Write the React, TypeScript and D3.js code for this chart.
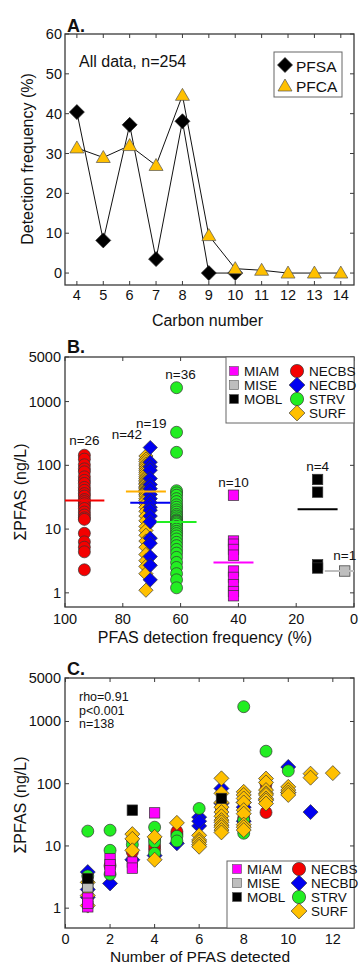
import React from "react";
import * as d3 from "d3";

// ---------- Panel A data ----------
const carbonPFCA = [4, 5, 6, 7, 8, 9, 10, 11, 12, 13, 14];
const pfcaFreq = [31.4, 29.0, 32.0, 27.0, 44.6, 9.4, 1.1, 0.7, 0, 0, 0];
const carbonPFSA = [4, 5, 6, 7, 8, 9, 10];
const pfsaFreq = [40.4, 8.2, 37.2, 3.5, 38.1, 0, 0];
const xTicksA = [4, 5, 6, 7, 8, 9, 10, 11, 12, 13, 14];
const yTicksA = [0, 10, 20, 30, 40, 50, 60];

// ---------- Panel B data ----------
const groupsB = ["NECBS", "SURF", "NECBD", "STRV", "MIAM", "MOBL", "MISE"];
const freqB = [93.3, 72, 70.5, 61.4, 41.7, 12.6, 3.2];
const countB = [26, 42, 19, 36, 10, 4, 1];
const medianB = [28, 39, 26, 12.9, 3.0, 20.5, 2.2];
const necbsB = [144, 125, 102, 88, 79, 66, 58, 52, 45, 40.5, 36, 33, 29, 27, 25, 23, 21, 18.5, 16.6, 15, 14.2, 8.6, 6.3, 5.2, 4.4, 2.3];
const surfB = [140, 125, 115, 105, 98, 90, 84, 78, 72, 66, 62, 58, 55, 52, 50, 47, 45, 43, 41, 40, 39.5, 38.5, 37, 35, 33, 30, 28, 25, 22, 19, 16, 13.5, 11, 9.5, 8, 6.5, 5.2, 4, 3.2, 2.6, 2.0, 1.1];
const necbdB = [190, 112, 95, 84, 62, 50, 43, 35, 30, 26, 22, 19.8, 16, 13, 7.2, 6, 3.7, 2.7, 1.6];
const strvB = [1650, 330, 160, 40, 37, 34, 30, 27, 24, 22, 20, 18.5, 17, 16, 15, 14, 13.5, 13.2, 12.6, 12, 11, 10, 9.2, 8.5, 7.8, 7, 6.2, 5.5, 4.8, 4.2, 3.6, 3, 2.5, 2, 1.6, 1.2];
const miamB = [34, 6.5, 5.8, 4.8, 3.9, 2.2, 1.75, 1.35, 1.05, 0.9];
const moblB = [60, 38, 2.75, 2.45];
const miseB = [2.2];
const xTicksB = [100, 80, 60, 40, 20, 0];
const logTicks = [1, 10, 100, 1000, 5000];

// ---------- Panel C data ([number detected, sum PFAS]) ----------
const necbdC = [[1, 3.8], [1, 2], [1, 1.5], [2, 2.5], [3, 6], [4, 7], [5, 11], [6, 29], [6, 21], [6, 25], [7, 84], [7, 48], [8, 42], [8, 25], [8, 50], [9, 55], [10, 186], [10, 72], [11, 35]];
const necbsC = [[2, 4.8], [3, 8], [4, 8.8], [4, 10], [5, 15.5], [5, 17], [7, 40], [8, 28], [9, 100], [9, 80], [9, 34.5]];
const strvC = [[1, 17.3], [1, 3.3], [2, 17.9], [2, 8.5], [2, 3.5], [3, 12.7], [3, 10.5], [4, 20], [4, 13], [4, 11.6], [4, 7.6], [5, 14.3], [5, 12], [6, 40], [7, 30], [8, 1730], [8, 26], [8, 16], [9, 333], [10, 161]];
const surfC = [[1, 2.6], [1, 1.6], [1, 1.1], [3, 15.5], [3, 13], [3, 8.5], [4, 14], [4, 6.0], [5, 23.5], [6, 14.8], [6, 12.5], [6, 11.6], [6, 10.5], [6, 9.7], [7, 122], [7, 70], [7, 50], [7, 42], [7, 35], [7, 30], [7, 26], [7, 24], [7, 21.6], [7, 20], [7, 18], [7, 16.5], [8, 74], [8, 66], [8, 58], [8, 50], [8, 37.6], [8, 33], [8, 22], [8, 20], [8, 18], [9, 121], [9, 105], [9, 79], [9, 70], [9, 66], [9, 58], [9, 54], [9, 48], [10, 89], [10, 79], [10, 72], [10, 66], [11, 145], [11, 125], [12, 148]];
const miamC = [[1, 1.45], [1, 1.05], [1, 1.2], [2, 6.2], [2, 5.0], [2, 4.0], [3, 5.5], [3, 4.4], [4, 34]];
const miseC = [[1, 2.6], [1, 2.2]];
const moblC = [[1, 3.0], [3, 37.6], [7, 58]];
const xTicksC = [0, 2, 4, 6, 8, 10, 12];
const statsC = ["rho=0.91", "p<0.001", "n=138"];

// ---------- styles ----------
const FONT = "'Liberation Sans', Arial, Helvetica, sans-serif";
const COL: Record<string, string> = {
  NECBS: "#F40000",
  NECBD: "#0000F0",
  STRV: "#22EE22",
  SURF: "#FFC000",
  MIAM: "#FF00FF",
  MISE: "#BEBEBE",
  MOBL: "#000000",
};
const SHAPE: Record<string, string> = {
  NECBS: "circle",
  NECBD: "diamond",
  STRV: "circle",
  SURF: "diamond",
  MIAM: "square",
  MISE: "square",
  MOBL: "square",
};
const FRAME = "#3a3a3a";
const L = 65;
const R = 354;

function Marker({ shape, x, y, fill, size = 1, stroke = "#333", sw = 0.7 }: any) {
  if (shape === "circle") {
    return <circle cx={x} cy={y} r={6 * size} fill={fill} stroke={stroke} strokeWidth={sw} />;
  }
  if (shape === "diamond") {
    const h = 7.5 * size;
    return <path d={`M${x},${y - h}L${x + h},${y}L${x},${y + h}L${x - h},${y}Z`} fill={fill} stroke={stroke} strokeWidth={sw} />;
  }
  if (shape === "triangle") {
    const w = 7 * size;
    return <path d={`M${x},${y - 7 * size}L${x + w},${y + 5 * size}L${x - w},${y + 5 * size}Z`} fill={fill} stroke={stroke} strokeWidth={sw} />;
  }
  const s = 5.2 * size;
  return <rect x={x - s} y={y - s} width={2 * s} height={2 * s} fill={fill} stroke={stroke} strokeWidth={sw} />;
}

function Frame({ top, bottom, xs, ys, xTicks, yTicks, xFmt, yFmt, labelBaseX, labelBaseY }: any) {
  const t = 4;
  return (
    <g>
      <rect x={L} y={top} width={R - L} height={bottom - top} fill="none" stroke={FRAME} strokeWidth={1.3} />
      {xTicks.map((v: number) => (
        <g key={"x" + v}>
          <line x1={xs(v)} x2={xs(v)} y1={bottom} y2={bottom - t} stroke={FRAME} strokeWidth={1} />
          <line x1={xs(v)} x2={xs(v)} y1={top} y2={top + t} stroke={FRAME} strokeWidth={1} />
          <text x={xs(v)} y={labelBaseY} textAnchor="middle" fontSize={14.5} fontFamily={FONT} fill="#111">
            {xFmt(v)}
          </text>
        </g>
      ))}
      {yTicks.map((v: number) => (
        <g key={"y" + v}>
          <line x1={L} x2={L + t} y1={ys(v)} y2={ys(v)} stroke={FRAME} strokeWidth={1} />
          <line x1={R} x2={R - t} y1={ys(v)} y2={ys(v)} stroke={FRAME} strokeWidth={1} />
          <text x={labelBaseX} y={ys(v) + 5} textAnchor="end" fontSize={14.5} fontFamily={FONT} fill="#111">
            {yFmt(v)}
          </text>
        </g>
      ))}
    </g>
  );
}

function LegendGroups({ x0, y0, x1, y1, colL, colR, rows, dy }: any) {
  const left = ["MIAM", "MISE", "MOBL"];
  const right = ["NECBS", "NECBD", "STRV", "SURF"];
  return (
    <g>
      <rect x={x0} y={y0} width={x1 - x0} height={y1 - y0} fill="#fff" stroke="#666" strokeWidth={1} />
      {left.map((g, i) => (
        <g key={g}>
          <rect x={colL - 4.5} y={rows + i * dy - 4.5} width={9} height={9} fill={COL[g]} stroke="#555" strokeWidth={0.6} />
          <text x={colL + 10} y={rows + i * dy + 5} fontSize={13.5} fontFamily={FONT} fill="#111">
            {g}
          </text>
        </g>
      ))}
      {right.map((g, i) => (
        <g key={g}>
          <Marker shape={SHAPE[g]} x={colR} y={rows + i * dy} fill={COL[g]} size={SHAPE[g] === "circle" ? 1.1 : 1.05} />
          <text x={colR + 12} y={rows + i * dy + 5} fontSize={13.5} fontFamily={FONT} fill="#111">
            {g}
          </text>
        </g>
      ))}
    </g>
  );
}

export default function App() {
  // ---- Panel A scales ----
  const xA = d3.scaleLinear().domain([3.55, 14.5]).range([L, R]);
  const yA = d3.scaleLinear().domain([-3, 60]).range([285, 34]);
  const lineA = d3.line<[number, number]>().x((d) => xA(d[0])).y((d) => yA(d[1]));
  const pfcaPts = carbonPFCA.map((c, i) => [c, pfcaFreq[i]] as [number, number]);
  const pfsaPts = carbonPFSA.map((c, i) => [c, pfsaFreq[i]] as [number, number]);

  // ---- Panel B scales ----
  const xB = d3.scaleLinear().domain([100, 0]).range([L, R]);
  const yB = d3.scaleLog().domain([0.6, 5000]).range([607, 357]);
  const valuesB: Record<string, number[]> = {
    NECBS: necbsB, SURF: surfB, NECBD: necbdB, STRV: strvB, MIAM: miamB, MOBL: moblB, MISE: miseB,
  };
  const labelDx = [0, -19, 1, 4, 0, 0, 0];
  const labelDy = [-10, -17, -20, -9, -8, -8, -11];

  // ---- Panel C scales ----
  const xC = d3.scaleLinear().domain([0, 12.95]).range([65.5, R]);
  const yC = d3.scaleLog().domain([0.48, 5000]).range([928, 678]);
  const seriesC: [string, number[][]][] = [
    ["NECBD", necbdC], ["NECBS", necbsC], ["STRV", strvC], ["SURF", surfC], ["MIAM", miamC], ["MISE", miseC], ["MOBL", moblC],
  ];

  const logFmt = (v: number) => String(v);

  return (
    <svg width={359} height={965} style={{ display: "block", position: "absolute", left: 0, top: 0 }} fontFamily={FONT}>
      <rect x={0} y={0} width={359} height={965} fill="#fff" />
      <defs>
        <clipPath id="clipB">
          <rect x={L} y={357} width={R - L} height={250} />
        </clipPath>
      </defs>

      {/* ================= Panel A ================= */}
      <Frame top={34} bottom={285} xs={xA} ys={yA} xTicks={xTicksA} yTicks={yTicksA} xFmt={String} yFmt={String} labelBaseX={62} labelBaseY={300} />
      <text x={67} y={32} fontSize={18} fontWeight="bold" fontFamily={FONT} fill="#111">A.</text>
      <text x={79} y={67} fontSize={16} fontFamily={FONT} fill="#111">All data, n=254</text>
      <path d={lineA(pfsaPts) || ""} fill="none" stroke="#111" strokeWidth={1} />
      <path d={lineA(pfcaPts) || ""} fill="none" stroke="#111" strokeWidth={1} />
      {pfsaPts.map((p, i) => (
        <Marker key={"s" + i} shape="diamond" x={xA(p[0])} y={yA(p[1])} fill="#000" size={1.0} stroke="#222" />
      ))}
      {pfcaPts.map((p, i) => (
        <Marker key={"c" + i} shape="triangle" x={xA(p[0])} y={yA(p[1])} fill={COL.SURF} size={1.0} stroke="#555" />
      ))}
      <rect x={274} y={52} width={68} height={45} fill="#fff" stroke="#666" strokeWidth={1} />
      <Marker shape="diamond" x={285} y={65} fill="#000" size={1.0} stroke="#222" />
      <text x={296} y={72} fontSize={15.5} fontFamily={FONT} fill="#111">PFSA</text>
      <Marker shape="triangle" x={285} y={86} fill={COL.SURF} size={1.0} stroke="#555" />
      <text x={296} y={92} fontSize={15.5} fontFamily={FONT} fill="#111">PFCA</text>
      <text x={207.5} y={326} textAnchor="middle" fontSize={16} fontFamily={FONT} fill="#111">Carbon number</text>
      <text transform="translate(33,159) rotate(-90)" textAnchor="middle" fontSize={16} fontFamily={FONT} fill="#111">
        Detection frequency (%)
      </text>

      {/* ================= Panel B ================= */}
      <Frame top={357} bottom={607} xs={xB} ys={yB} xTicks={xTicksB} yTicks={logTicks} xFmt={String} yFmt={logFmt} labelBaseX={61} labelBaseY={624} />
      <text x={67} y={353} fontSize={18} fontWeight="bold" fontFamily={FONT} fill="#111">B.</text>
      <LegendGroups x0={226} y0={357} x1={R} y1={423} colL={234} colR={297} rows={371} dy={14} />
      <g clipPath="url(#clipB)">
        {groupsB.map((g, gi) =>
          valuesB[g].map((v, i) => (
            <Marker key={g + i} shape={SHAPE[g]} x={xB(freqB[gi])} y={yB(v)} fill={COL[g]} size={SHAPE[g] === "diamond" ? 0.95 : 1} />
          ))
        )}
        {groupsB.map((g, gi) => (
          <line key={"m" + g} x1={xB(freqB[gi]) - 20} x2={xB(freqB[gi]) + 20} y1={yB(medianB[gi])} y2={yB(medianB[gi])} stroke={g === "SURF" ? "#FFB000" : COL[g]} strokeWidth={2} />
        ))}
      </g>
      {groupsB.map((g, gi) => (
        <text key={"n" + g} x={xB(freqB[gi]) + labelDx[gi]} y={yB(d3.max(valuesB[g]) as number) + labelDy[gi]} textAnchor="middle" fontSize={13.5} fontFamily={FONT} fill="#111">
          {"n=" + countB[gi]}
        </text>
      ))}
      <text x={205} y={643} textAnchor="middle" fontSize={16} fontFamily={FONT} fill="#111">PFAS detection frequency (%)</text>
      <text transform="translate(26,492) rotate(-90)" textAnchor="middle" fontSize={16} fontFamily={FONT} fill="#111">
        ΣPFAS (ng/L)
      </text>

      {/* ================= Panel C ================= */}
      <Frame top={678} bottom={928} xs={xC} ys={yC} xTicks={xTicksC} yTicks={logTicks} xFmt={String} yFmt={logFmt} labelBaseX={61} labelBaseY={944} />
      <text x={67} y={675} fontSize={18} fontWeight="bold" fontFamily={FONT} fill="#111">C.</text>
      {statsC.map((s, i) => (
        <text key={s} x={79} y={701 + i * 13.5} fontSize={12.5} fontFamily={FONT} fill="#111">{s}</text>
      ))}
      {seriesC.map(([g, pts]) =>
        pts.map((p, i) => (
          <Marker key={g + i} shape={SHAPE[g]} x={xC(p[0])} y={yC(p[1])} fill={COL[g]} size={SHAPE[g] === "diamond" ? 1.0 : 1} />
        ))
      )}
      <LegendGroups x0={227} y0={861} x1={R} y1={928} colL={237} colR={299} rows={869} dy={14} />
      <text x={200} y={962} textAnchor="middle" fontSize={15.5} fontFamily={FONT} fill="#111">Number of PFAS detected</text>
      <text transform="translate(26,805) rotate(-90)" textAnchor="middle" fontSize={16} fontFamily={FONT} fill="#111">
        ΣPFAS (ng/L)
      </text>
    </svg>
  );
}
